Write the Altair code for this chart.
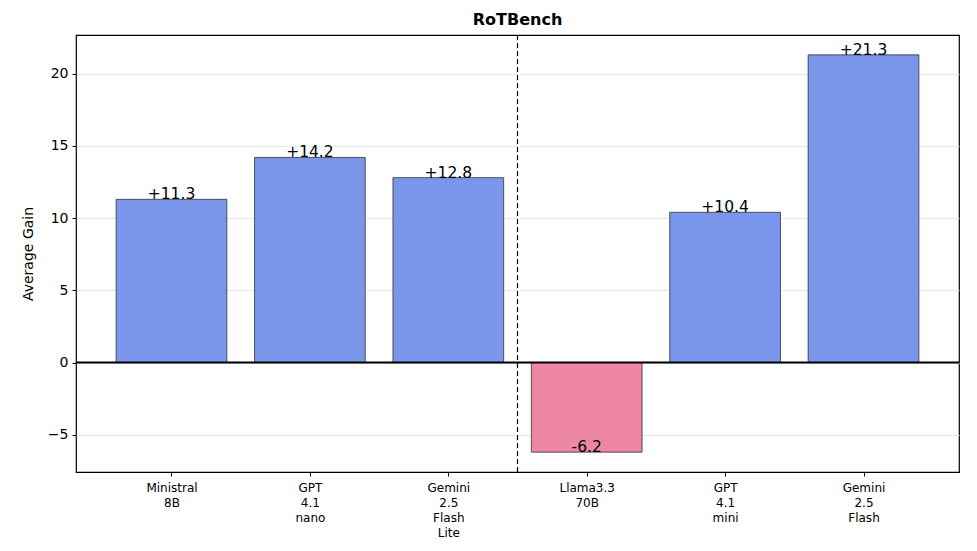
import altair as alt
import pandas as pd

models = ["Ministral|8B", "GPT|4.1|nano", "Gemini|2.5|Flash|Lite", "Llama3.3|70B", "GPT|4.1|mini", "Gemini|2.5|Flash"]
gains = [11.3, 14.2, 12.8, -6.2, 10.4, 21.3]
labels = ["+11.3", "+14.2", "+12.8", "-6.2", "+10.4", "+21.3"]
y_ticks = [-5, 0, 5, 10, 15, 20]

df = pd.DataFrame({
    "idx": list(range(len(models))),
    "model": models,
    "gain": gains,
    "label": labels,
    "sign": ["pos" if g >= 0 else "neg" for g in gains],
})

label_expr = "split([" + ",".join("'" + m + "'" for m in models) + "][datum.value], '|')"

xscale = alt.Scale(domain=[-0.69, 5.69], nice=False, zero=False)
yscale = alt.Scale(domain=[-7.575, 22.675], nice=False, zero=False)

base = alt.Chart(df)

bars = base.transform_calculate(
    lo="datum.idx - 0.4", hi="datum.idx + 0.4"
).mark_bar(stroke="#333333", strokeWidth=1, strokeOpacity=0.8).encode(
    x=alt.X("lo:Q", scale=xscale, title=None,
            axis=alt.Axis(values=list(range(len(models))), labelExpr=label_expr,
                          grid=False, domain=False, tickColor="black", tickSize=4,
                          labelFont="DejaVu Sans", labelFontSize=12, labelColor="black",
                          labelLineHeight=15, labelPadding=6, labelBaseline="top")),
    x2="hi:Q",
    y=alt.Y("gain:Q", scale=yscale, title="Average Gain",
            axis=alt.Axis(values=y_ticks, grid=True, gridColor="#e6e6e6", gridWidth=1,
                          domain=False, tickColor="black", tickSize=4,
                          labelFont="DejaVu Sans", labelFontSize=14, labelColor="black",
                          labelPadding=4,
                          titleFont="DejaVu Sans", titleFontSize=14, titleFontWeight="normal",
                          titleColor="black", titlePadding=12)),
    y2=alt.datum(0),
    color=alt.Color("sign:N", scale=alt.Scale(domain=["pos", "neg"], range=["#7A96EA", "#EE87A4"]), legend=None),
)

text = base.mark_text(baseline="bottom", align="center", font="DejaVu Sans", fontSize=15.5, dy=3, color="black").encode(
    x=alt.X("idx:Q", scale=xscale),
    y=alt.Y("gain:Q", scale=yscale),
    text="label:N",
)

zero = alt.Chart(pd.DataFrame({"z": [0]})).mark_rule(color="black", strokeWidth=2).encode(
    y=alt.Y("z:Q", scale=yscale)
)

divider = alt.Chart(pd.DataFrame({"d": [2.5]})).mark_rule(color="black", strokeWidth=1.2, strokeDash=[5, 3]).encode(
    x=alt.X("d:Q", scale=xscale)
)

chart = alt.layer(bars, zero, divider, text).properties(
    width=883, height=437,
    title=alt.TitleParams("RoTBench", font="DejaVu Sans", fontSize=16, fontWeight="bold", color="black", offset=6),
    autosize=alt.AutoSizeParams(type="none"),
    padding={"left": 68, "top": 27, "right": 6, "bottom": 76},
).configure_view(stroke="black", strokeWidth=1.2)

chart.save("out.html", embed_options={"renderer": "svg", "actions": False})
